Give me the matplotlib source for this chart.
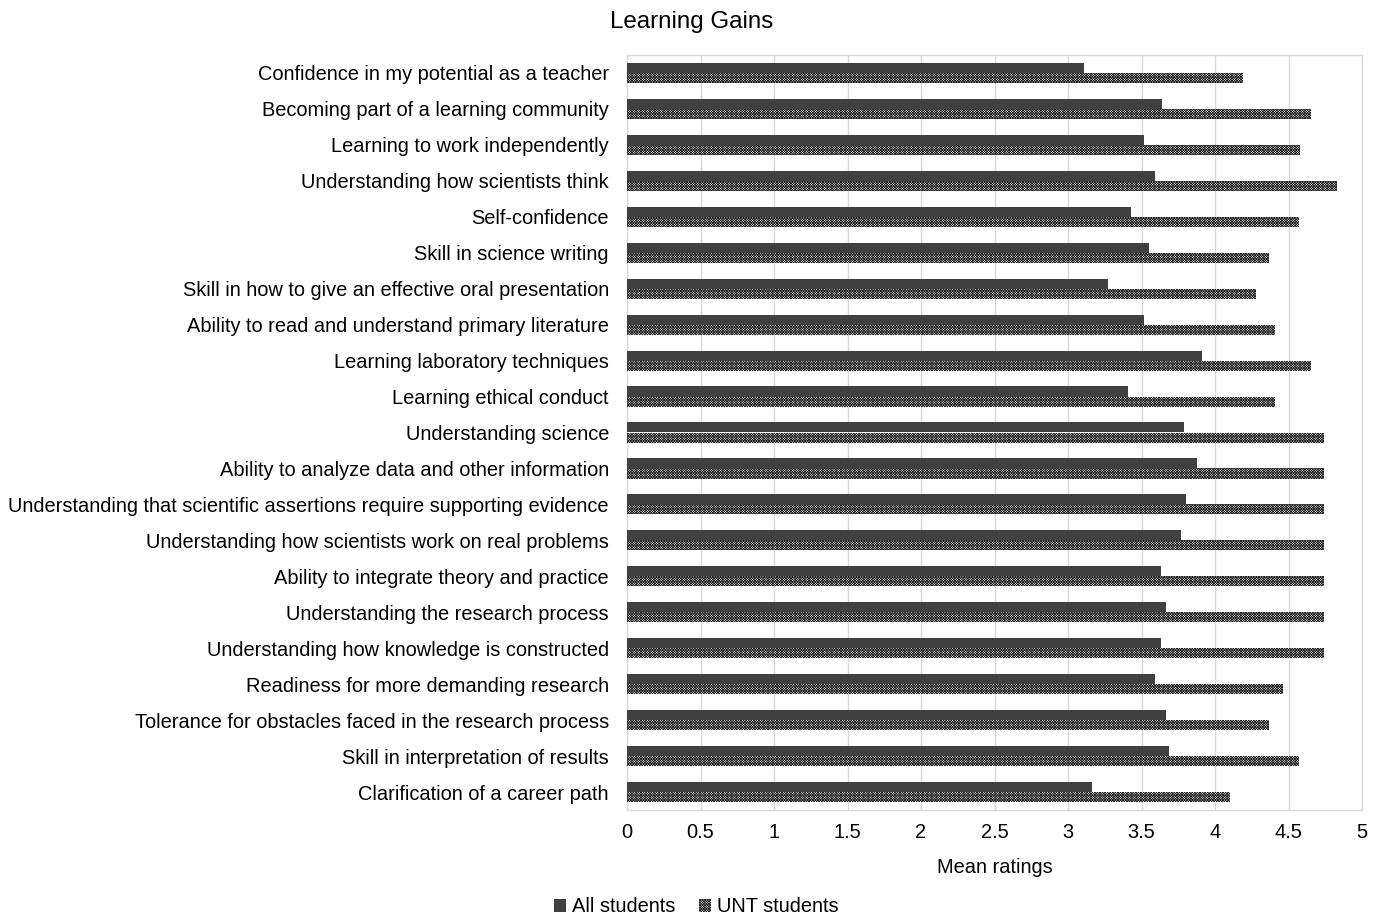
import matplotlib
matplotlib.use("Agg")
import matplotlib.pyplot as plt
import numpy as np
from matplotlib.patches import Patch

plt.rcParams['font.family'] = ['Liberation Sans', 'DejaVu Sans']
plt.rcParams['hatch.linewidth'] = 0.55
plt.rcParams['hatch.color'] = '#1a1a1a'

categories = [
    "Confidence in my potential as a teacher",
    "Becoming part of a learning community",
    "Learning to work independently",
    "Understanding how scientists think",
    "Self-confidence",
    "Skill in science writing",
    "Skill in how to give an effective oral presentation",
    "Ability to read and understand primary literature",
    "Learning laboratory techniques",
    "Learning ethical conduct",
    "Understanding science",
    "Ability to analyze data and other information",
    "Understanding that scientific assertions require supporting evidence",
    "Understanding how scientists work on real problems",
    "Ability to integrate theory and practice",
    "Understanding the research process",
    "Understanding how knowledge is constructed",
    "Readiness for more demanding research",
    "Tolerance for obstacles faced in the research process",
    "Skill in interpretation of results",
    "Clarification of a career path",
]

all_students = [3.11, 3.64, 3.52, 3.59, 3.43, 3.55, 3.27, 3.52, 3.91, 3.41, 3.79,
                3.88, 3.80, 3.77, 3.63, 3.67, 3.63, 3.59, 3.67, 3.69, 3.16]
unt_students = [4.19, 4.65, 4.58, 4.83, 4.57, 4.37, 4.28, 4.41, 4.65, 4.41, 4.74,
                4.74, 4.74, 4.74, 4.74, 4.74, 4.74, 4.46, 4.37, 4.57, 4.10]

x_ticks = [0, 0.5, 1, 1.5, 2, 2.5, 3, 3.5, 4, 4.5, 5]
x_tick_labels = ["0", "0.5", "1", "1.5", "2", "2.5", "3", "3.5", "4", "4.5", "5"]

W, H = 1382, 916
fig = plt.figure(figsize=(W / 100, H / 100), dpi=100)
ax = fig.add_axes([627 / W, 1 - 810 / H, (1362 - 627) / W, (810 - 55) / H])

y = np.arange(len(categories))
bh = 0.28
dark = '#404040'
grid_c = '#d9d9d9'
hatch = 'x' * 13

ax.barh(y - bh / 2, all_students, height=bh, color=dark, edgecolor='none',
        label='All students', zorder=3)
ax.barh(y + bh / 2, unt_students, height=bh, color='white', edgecolor='#1a1a1a',
        linewidth=0, hatch=hatch, label='UNT students', zorder=3)

ax.set_ylim(len(categories) - 0.5, -0.5)
ax.set_xlim(0, 5)
ax.set_yticks(y)
ax.set_yticklabels(categories, fontsize=14.4, color='#000000')
ax.set_xticks(x_ticks)
ax.set_xticklabels(x_tick_labels, fontsize=14.4)
ax.tick_params(axis='y', length=0, pad=13)
ax.tick_params(axis='x', length=0, pad=9)

ax.grid(axis='x', color=grid_c, linewidth=1.0, zorder=0)
ax.set_axisbelow(True)
for s in ax.spines.values():
    s.set_color(grid_c)
    s.set_linewidth(1.0)

ax.set_xlabel("Mean ratings", fontsize=14.4, labelpad=12)
fig.text(692 / W, 1 - 22 / H, "Learning Gains", fontsize=17.4,
         ha='center', va='center')

handles = [Patch(facecolor=dark, edgecolor='none', label='All students'),
           Patch(facecolor='white', edgecolor='#1a1a1a', linewidth=0,
                 hatch=hatch, label='UNT students')]
fig.legend(handles=handles, loc='center', bbox_to_anchor=(696 / W, 1 - 907 / H),
           ncol=2, frameon=False, fontsize=14.4, handlelength=0.6,
           handleheight=0.6, handletextpad=0.3, columnspacing=1.2)

fig.savefig("out.png", dpi=100)
